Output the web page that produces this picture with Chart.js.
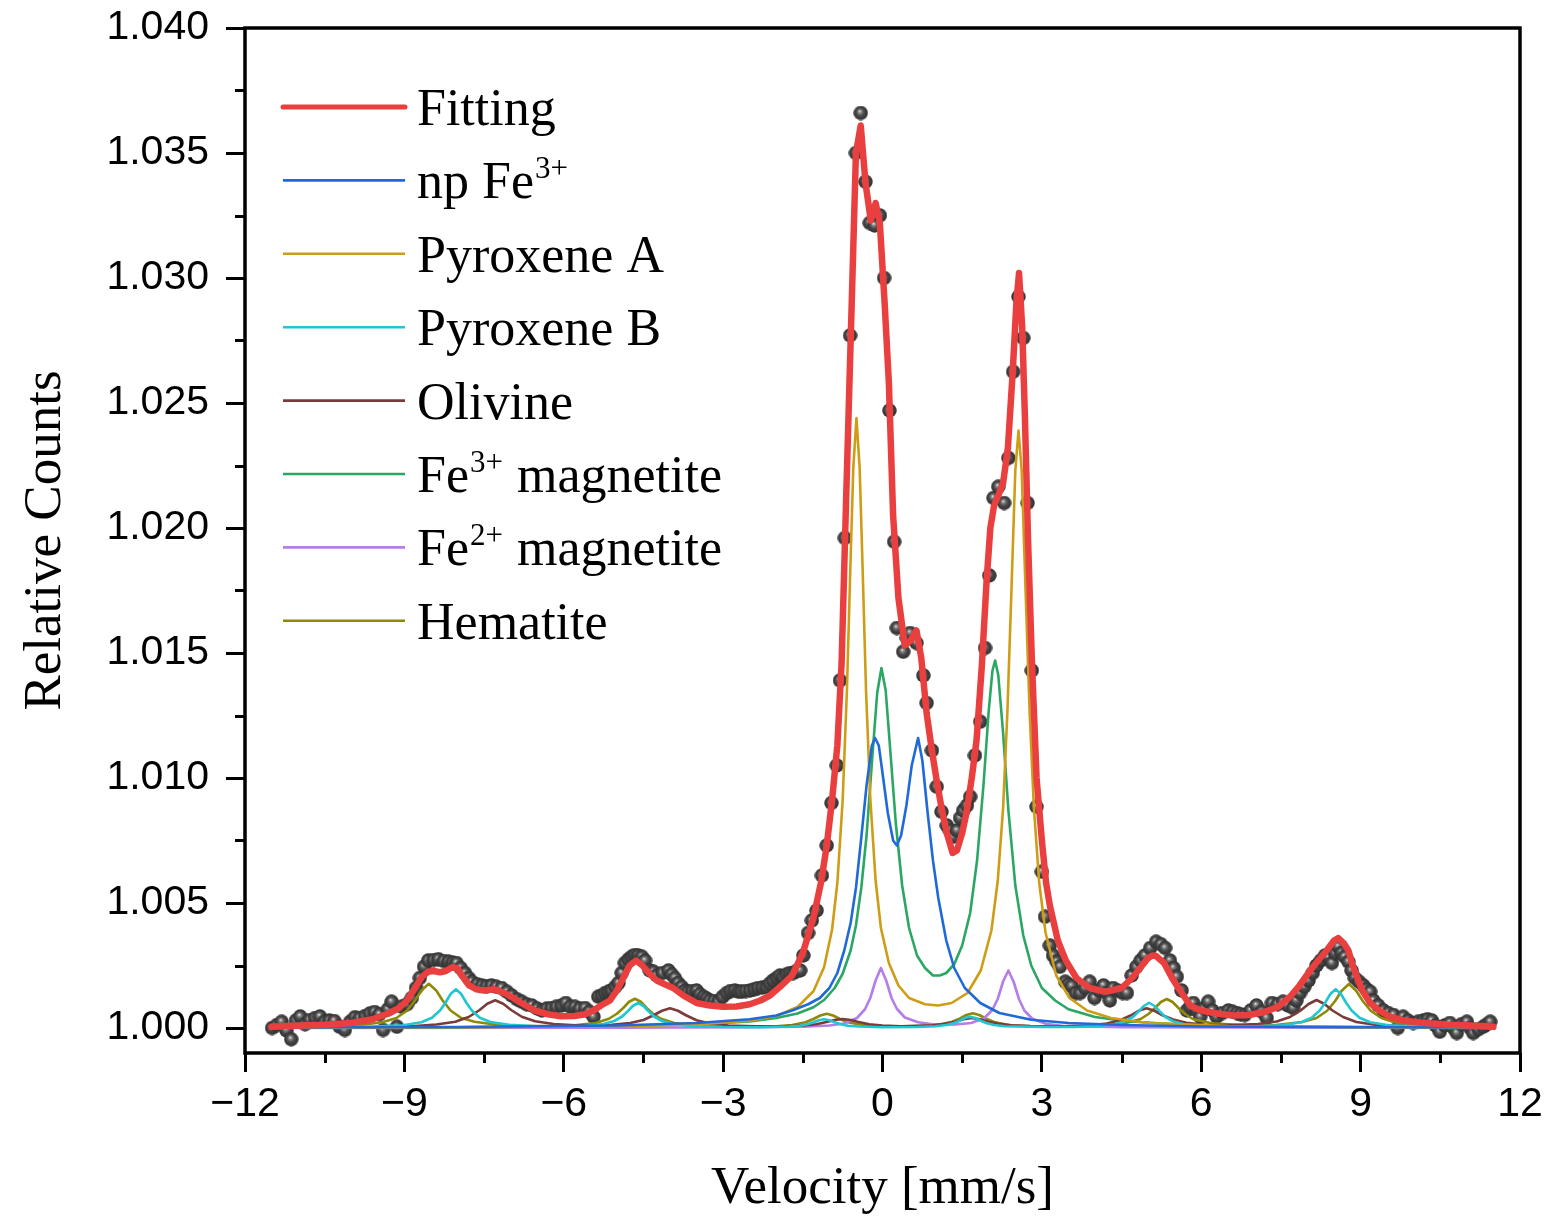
<!DOCTYPE html>
<html>
<head>
<meta charset="utf-8">
<title>Mössbauer spectrum</title>
<script src="https://cdn.jsdelivr.net/npm/chart.js@4.4.1/dist/chart.umd.min.js"></script>
<style>
    html, body { margin: 0; padding: 0; background: #fff; }
    canvas { display: block; }
</style>
</head>
<body>
<canvas id="spectrum" width="1547" height="1217"></canvas>
<script>
/* =========================================
   1. Data (velocity [mm/s], relative counts)
   ========================================= */
const xMajorTicks = [-12, -9, -6, -3, 0, 3, 6, 9, 12];
const xMinorTicks = [-10.5, -7.5, -4.5, -1.5, 1.5, 4.5, 7.5, 10.5];
const yMajorTicks = [1.000, 1.005, 1.010, 1.015, 1.020, 1.025, 1.030, 1.035, 1.040];
const yMinorTicks = [1.0025, 1.0075, 1.0125, 1.0175, 1.0225, 1.0275, 1.0325, 1.0375];

// measured spectrum (grey spheres)
const measured = [
    [-11.49,1.0],[-11.4,1.00012],[-11.31,1.00025],[-11.22,0.9999],[-11.13,0.99955],[-11.04,1.0003],[-10.96,1.00046],[-10.87,1.00015],
    [-10.78,1.00032],[-10.68,1.0004],[-10.59,1.00046],[-10.5,1.00025],[-10.41,1.0003],[-10.32,1.00028],[-10.22,1.00005],[-10.12,0.99992],
    [-10.02,1.00025],[-9.93,1.00043],[-9.84,1.0004],[-9.74,1.00048],[-9.65,1.00058],[-9.56,1.00064],[-9.47,1.00055],[-9.4,0.99992],
    [-9.31,1.00075],[-9.24,1.00105],[-9.14,1.00005],[-9.05,1.00085],[-8.95,1.00095],[-8.86,1.0012],[-8.78,1.0016],[-8.71,1.002],
    [-8.63,1.00245],[-8.55,1.0027],[-8.45,1.00272],[-8.36,1.00275],[-8.26,1.00268],[-8.17,1.00265],[-8.09,1.00262],[-8.02,1.0026],
    [-7.94,1.0024],[-7.86,1.0022],[-7.79,1.002],[-7.73,1.00185],[-7.63,1.00175],[-7.54,1.0017],[-7.45,1.00168],[-7.36,1.0017],
    [-7.27,1.00165],[-7.17,1.0016],[-7.07,1.00145],[-6.98,1.0013],[-6.88,1.00115],[-6.79,1.00105],[-6.7,1.00095],[-6.6,1.0009],
    [-6.5,1.00078],[-6.41,1.0007],[-6.32,1.00078],[-6.23,1.0008],[-6.14,1.00085],[-6.04,1.0009],[-5.96,1.001],[-5.88,1.00085],
    [-5.79,1.00085],[-5.7,1.00078],[-5.6,1.0008],[-5.52,1.00065],[-5.44,1.00045],[-5.35,1.00125],[-5.28,1.0013],[-5.22,1.0014],
    [-5.16,1.00145],[-5.1,1.0015],[-5.03,1.00165],[-4.97,1.0018],[-4.91,1.0022],[-4.85,1.0026],[-4.78,1.00275],[-4.72,1.00285],
    [-4.66,1.00292],[-4.6,1.0029],[-4.53,1.00285],[-4.47,1.0027],[-4.38,1.0023],[-4.31,1.00225],[-4.25,1.0021],[-4.14,1.0022],
    [-4.03,1.0023],[-3.97,1.00215],[-3.91,1.002],[-3.85,1.0018],[-3.78,1.00165],[-3.72,1.0015],[-3.66,1.00145],[-3.58,1.00148],
    [-3.5,1.0015],[-3.44,1.00135],[-3.37,1.00125],[-3.31,1.00118],[-3.25,1.0011],[-3.17,1.00108],[-3.09,1.00105],[-3.01,1.00125],
    [-2.93,1.0014],[-2.86,1.00148],[-2.78,1.0015],[-2.71,1.00145],[-2.65,1.00145],[-2.57,1.00148],[-2.49,1.0015],[-2.41,1.00155],
    [-2.34,1.0016],[-2.26,1.00162],[-2.18,1.00165],[-2.12,1.00178],[-2.06,1.0019],[-1.99,1.002],[-1.93,1.0021],[-1.87,1.00205],
    [-1.8,1.00215],[-1.74,1.0022],[-1.68,1.0022],[-1.62,1.00228],[-1.55,1.0023],[-1.49,1.0029],[-1.4,1.0038],[-1.33,1.0043],
    [-1.24,1.0047],[-1.14,1.0061],[-1.05,1.0073],[-0.96,1.009],[-0.86,1.0105],[-0.8,1.0139],[-0.71,1.0196],[-0.61,1.0277],
    [-0.5,1.035],[-0.41,1.0366],[-0.32,1.03385],[-0.24,1.0322],[-0.15,1.0321],[-0.05,1.0325],[0.03,1.03],[0.13,1.0247],
    [0.22,1.01945],[0.27,1.016],[0.39,1.01505],[0.46,1.0156],[0.52,1.0158],[0.64,1.0154],[0.77,1.0141],[0.83,1.013],
    [0.93,1.0111],[1.02,1.00965],[1.11,1.00865],[1.21,1.0081],[1.27,1.0079],[1.33,1.00765],[1.4,1.0079],[1.46,1.0084],
    [1.52,1.0087],[1.59,1.0089],[1.65,1.00925],[1.74,1.0109],[1.84,1.01225],[1.93,1.0152],[2.01,1.0181],[2.09,1.0212],
    [2.18,1.02165],[2.29,1.021],[2.37,1.0228],[2.46,1.02625],[2.56,1.02925],[2.65,1.0276],[2.73,1.021],[2.81,1.0143],
    [2.9,1.00885],[3.0,1.00625],[3.06,1.00445],[3.15,1.0033],[3.21,1.0029],[3.28,1.00265],[3.34,1.00245],[3.44,1.00185],
    [3.5,1.00175],[3.56,1.00168],[3.64,1.0014],[3.72,1.0014],[3.81,1.0016],[3.9,1.00185],[3.99,1.0012],[4.08,1.0015],
    [4.16,1.0017],[4.22,1.0014],[4.28,1.0011],[4.34,1.0016],[4.43,1.0015],[4.52,1.0014],[4.6,1.0014],[4.69,1.0021],
    [4.78,1.00245],[4.86,1.0027],[4.94,1.0029],[5.04,1.0032],[5.15,1.00345],[5.24,1.00335],[5.32,1.0032],[5.41,1.0027],
    [5.48,1.0024],[5.54,1.00205],[5.63,1.0015],[5.73,1.0007],[5.79,1.00085],[5.85,1.001],[5.92,1.0007],[5.98,1.00045],
    [6.06,1.0008],[6.13,1.00105],[6.21,1.0007],[6.29,1.00045],[6.4,1.0006],[6.51,1.0007],[6.59,1.00065],[6.67,1.0006],
    [6.74,1.00055],[6.82,1.00052],[6.93,1.0007],[7.04,1.0009],[7.14,1.00065],[7.23,1.0004],[7.33,1.001],[7.44,1.00095],
    [7.54,1.00105],[7.63,1.0009],[7.73,1.0008],[7.79,1.0011],[7.86,1.0014],[7.94,1.00165],[8.02,1.0019],[8.1,1.0022],
    [8.17,1.0025],[8.25,1.0027],[8.33,1.0029],[8.4,1.0028],[8.46,1.0026],[8.52,1.003],[8.58,1.00325],[8.64,1.003],
    [8.7,1.00285],[8.77,1.00265],[8.83,1.0023],[8.89,1.002],[8.97,1.00185],[9.05,1.0017],[9.11,1.00155],[9.18,1.00145],
    [9.24,1.0011],[9.33,1.0009],[9.43,1.0007],[9.52,1.0006],[9.62,1.00052],[9.7,1.0],[9.8,1.00045],[9.89,1.0003],
    [9.99,1.0002],[10.08,1.00025],[10.18,1.0003],[10.26,1.00035],[10.34,1.0003],[10.41,1.0001],[10.49,0.99985],[10.58,1.0001],
    [10.68,1.0002],[10.75,1.0],[10.81,0.9998],[10.9,1.00015],[11.0,1.00025],[11.06,1.0],[11.12,0.9998],[11.22,0.99995],
    [11.31,1.00005],[11.38,1.00015],[11.44,1.00025]
];

// total fit
const fitting = [
    [-11.5,1.00005],[-11.0,1.0001],[-10.5,1.00013],[-10.0,1.0002],[-9.6,1.00035],[-9.3,1.00058],[-9.1,1.0008],[-8.95,1.0011],
    [-8.8,1.0016],[-8.67,1.00205],[-8.55,1.00225],[-8.45,1.00228],[-8.33,1.00223],[-8.22,1.00228],[-8.1,1.00243],[-8.0,1.00238],
    [-7.9,1.00205],[-7.78,1.0017],[-7.65,1.00155],[-7.5,1.0015],[-7.3,1.00155],[-7.1,1.00138],[-6.95,1.0012],[-6.8,1.001],
    [-6.55,1.0007],[-6.3,1.00055],[-6.05,1.00047],[-5.8,1.00048],[-5.6,1.00055],[-5.44,1.0007],[-5.3,1.0009],[-5.13,1.0011],
    [-5.0,1.0015],[-4.88,1.002],[-4.76,1.0025],[-4.64,1.0027],[-4.52,1.0025],[-4.4,1.0022],[-4.25,1.0019],[-4.1,1.00175],
    [-3.94,1.0016],[-3.75,1.0013],[-3.5,1.001],[-3.25,1.0009],[-3.0,1.00085],[-2.75,1.00086],[-2.5,1.00095],[-2.3,1.0011],
    [-2.12,1.0013],[-1.9,1.0017],[-1.7,1.0021],[-1.5,1.003],[-1.3,1.0044],[-1.15,1.0059],[-1.05,1.0073],[-0.95,1.0091],
    [-0.85,1.0113],[-0.77,1.0146],[-0.68,1.0215],[-0.59,1.0282],[-0.5,1.035],[-0.41,1.0361],[-0.32,1.0338],[-0.22,1.0323],
    [-0.13,1.033],[-0.05,1.0322],[0.04,1.029],[0.12,1.0258],[0.2,1.0205],[0.3,1.0172],[0.42,1.0153],[0.53,1.0155],
    [0.64,1.0159],[0.73,1.0148],[0.83,1.0126],[0.93,1.0111],[1.02,1.0099],[1.12,1.0087],[1.21,1.0078],[1.32,1.007],
    [1.4,1.0071],[1.5,1.0078],[1.58,1.0086],[1.68,1.01],[1.77,1.0115],[1.87,1.0145],[1.96,1.0179],[2.03,1.02],
    [2.1,1.0209],[2.18,1.0213],[2.27,1.0218],[2.36,1.0232],[2.45,1.0262],[2.52,1.029],[2.57,1.0302],[2.63,1.028],
    [2.68,1.0245],[2.74,1.0195],[2.81,1.0148],[2.9,1.01],[3.0,1.0075],[3.08,1.0058],[3.15,1.0049],[3.3,1.0035],
    [3.45,1.0027],[3.65,1.002],[3.9,1.0016],[4.2,1.00145],[4.5,1.0016],[4.7,1.002],[4.85,1.0024],[5.0,1.0028],
    [5.08,1.0029],[5.15,1.00288],[5.3,1.0026],[5.45,1.002],[5.6,1.0015],[5.8,1.00088],[6.0,1.0007],[6.3,1.00058],
    [6.6,1.0005],[6.9,1.00052],[7.2,1.00065],[7.45,1.00085],[7.67,1.00125],[7.85,1.0017],[8.05,1.0023],[8.2,1.0027],
    [8.36,1.0031],[8.5,1.0035],[8.58,1.0036],[8.68,1.0034],[8.77,1.0031],[8.85,1.0025],[8.93,1.00205],[9.03,1.0015],
    [9.18,1.001],[9.35,1.0007],[9.55,1.00045],[9.8,1.0003],[10.1,1.00022],[10.6,1.00014],[11.06,1.0001],[11.5,1.00005]
];

// fitted sub-spectra
const npFe3 = [
    [-11.5,1.00002],[-8,1.00004],[-5,1.0001],[-3.5,1.0002],[-2.5,1.00035],[-2,1.0005],[-1.7,1.0007],[-1.4,1.00095],
    [-1.18,1.0012],[-1.0,1.0016],[-0.85,1.0022],[-0.72,1.0031],[-0.6,1.0042],[-0.5,1.0056],[-0.4,1.0076],[-0.3,1.0097],
    [-0.2,1.0113],[-0.14,1.0116],[-0.07,1.0113],[0,1.0102],[0.1,1.0086],[0.2,1.0075],[0.27,1.0073],[0.35,1.0077],
    [0.45,1.0089],[0.55,1.0105],[0.67,1.0116],[0.75,1.0107],[0.85,1.0086],[0.95,1.0067],[1.05,1.0052],[1.2,1.0035],
    [1.35,1.0024],[1.55,1.0016],[1.84,1.001],[2.2,1.0006],[2.8,1.00033],[3.5,1.0002],[4.5,1.00012],[6,1.00006],
    [8,1.00004],[11.5,1.00002]
];
const pyroxeneA = [
    [-11.5,1.00001],[-8,1.00003],[-5,1.00007],[-3.5,1.00014],[-2.5,1.00029],[-2,1.00048],[-1.6,1.00084],[-1.3,1.00147],
    [-1.1,1.00243],[-0.95,1.00393],[-0.85,1.0058],[-0.75,1.0091],[-0.67,1.0135],[-0.6,1.0188],[-0.55,1.0224],[-0.49,1.0244],
    [-0.43,1.0224],[-0.38,1.0188],[-0.31,1.0135],[-0.23,1.0092],[-0.13,1.0059],[-0.03,1.004],[0.12,1.0026],[0.3,1.0017],
    [0.5,1.0012],[0.8,1.00095],[1.05,1.0009],[1.3,1.001],[1.6,1.0014],[1.85,1.0023],[2.05,1.0039],[2.17,1.0059],
    [2.27,1.0088],[2.35,1.0126],[2.43,1.0177],[2.5,1.0223],[2.56,1.0239],[2.62,1.0223],[2.69,1.0177],[2.77,1.0126],
    [2.85,1.0088],[2.95,1.0058],[3.07,1.0038],[3.27,1.0021],[3.52,1.0012],[3.85,1.0007],[4.3,1.0004],[5,1.0002],
    [6.5,1.00008],[9,1.00003],[11.5,1.00001]
];
const pyroxeneB = [
    [-11.5,1.00001],[-10,1.00003],[-9.03,1.00011],[-8.68,1.00023],[-8.48,1.00041],[-8.33,1.0007],[-8.23,1.001],[-8.13,1.00136],
    [-8.03,1.00155],[-7.93,1.00136],[-7.83,1.001],[-7.73,1.0007],[-7.58,1.00041],[-7.38,1.00024],[-7.03,1.00013],[-6.5,1.00007],
    [-6,1.00006],[-5.6,1.00008],[-5.25,1.00016],[-5.05,1.00028],[-4.9,1.00046],[-4.8,1.00066],[-4.7,1.00088],[-4.6,1.001],
    [-4.5,1.00088],[-4.4,1.00066],[-4.3,1.00046],[-4.15,1.00028],[-3.95,1.00016],[-3.6,1.00008],[-3,1.00004],[-2.3,1.00003],
    [-1.75,1.00006],[-1.55,1.00009],[-1.4,1.00016],[-1.3,1.00023],[-1.2,1.00031],[-1.1,1.00035],[-1.0,1.00031],[-0.9,1.00023],
    [-0.8,1.00016],[-0.65,1.00009],[-0.45,1.00006],[0,1.00003],[0.65,1.00004],[1.0,1.00007],[1.2,1.00012],[1.35,1.0002],
    [1.45,1.00029],[1.55,1.0004],[1.65,1.00045],[1.75,1.0004],[1.85,1.00029],[1.95,1.0002],[2.1,1.00012],[2.3,1.00007],
    [3,1.00004],[3.6,1.00004],[4.02,1.00007],[4.37,1.00015],[4.57,1.00027],[4.72,1.00045],[4.82,1.00066],[4.92,1.00088],
    [5.02,1.00101],[5.12,1.00088],[5.22,1.00066],[5.32,1.00045],[5.47,1.00027],[5.67,1.00015],[6.02,1.00008],[6.6,1.00006],
    [7.03,1.00007],[7.53,1.00011],[7.88,1.00023],[8.08,1.00041],[8.23,1.0007],[8.33,1.001],[8.43,1.00136],[8.53,1.00155],
    [8.63,1.00136],[8.73,1.001],[8.83,1.0007],[8.98,1.00041],[9.18,1.00023],[9.53,1.00011],[10.5,1.00003],[11.5,1.00001]
];
const olivine = [
    [-11.5,1.00001],[-10,1.00002],[-9.3,1.00004],[-8.8,1.00008],[-8.4,1.00014],[-8.04,1.00025],[-7.79,1.00044],[-7.59,1.00071],
    [-7.44,1.00097],[-7.29,1.00111],[-7.14,1.00097],[-6.99,1.00072],[-6.79,1.00045],[-6.54,1.00027],[-6.19,1.00016],[-5.69,1.0001],
    [-5.1,1.00013],[-4.75,1.0002],[-4.5,1.00032],[-4.3,1.00052],[-4.15,1.00069],[-4.0,1.00079],[-3.85,1.00069],[-3.7,1.00051],
    [-3.5,1.00031],[-3.25,1.00018],[-2.9,1.0001],[-2.4,1.00007],[-1.85,1.00007],[-1.5,1.0001],[-1.25,1.00015],[-1.05,1.00024],
    [-0.9,1.00032],[-0.75,1.00036],[-0.6,1.00032],[-0.45,1.00024],[-0.25,1.00015],[0,1.0001],[0.35,1.00007],[0.93,1.00011],
    [1.18,1.00017],[1.38,1.00026],[1.53,1.00035],[1.68,1.0004],[1.83,1.00035],[1.98,1.00026],[2.18,1.00017],[2.43,1.00011],
    [2.78,1.00008],[3.37,1.00007],[3.87,1.0001],[4.22,1.00018],[4.47,1.00031],[4.67,1.0005],[4.82,1.00069],[4.97,1.00079],
    [5.12,1.00069],[5.27,1.00051],[5.47,1.00034],[5.72,1.00021],[6.07,1.00013],[6.57,1.00012],[7.07,1.00016],[7.42,1.00026],
    [7.67,1.00044],[7.87,1.0007],[8.02,1.00096],[8.17,1.00112],[8.32,1.00096],[8.47,1.0007],[8.67,1.00044],[8.92,1.00024],
    [9.27,1.00013],[9.77,1.00007],[10.67,1.00003],[11.5,1.00002]
];
const fe3Magnetite = [
    [-11.5,1.00002],[-8,1.00003],[-5,1.00008],[-3.5,1.00014],[-2.5,1.00026],[-2,1.0004],[-1.6,1.00058],[-1.3,1.00083],
    [-1.1,1.00112],[-0.9,1.0016],[-0.75,1.00217],[-0.6,1.0031],[-0.5,1.0041],[-0.4,1.0056],[-0.3,1.0077],[-0.2,1.0106],
    [-0.1,1.0134],[-0.02,1.0144],[0.06,1.0135],[0.15,1.011],[0.25,1.0082],[0.37,1.0057],[0.5,1.004],[0.65,1.0029],
    [0.8,1.0024],[0.95,1.0021],[1.08,1.0021],[1.2,1.0022],[1.35,1.00255],[1.5,1.0033],[1.65,1.0046],[1.78,1.0067],
    [1.9,1.0097],[2.0,1.0127],[2.07,1.0143],[2.12,1.0147],[2.18,1.0141],[2.27,1.0118],[2.37,1.0087],[2.5,1.0057],
    [2.65,1.0037],[2.8,1.0025],[3.0,1.0016],[3.25,1.0011],[3.5,1.00075],[4,1.00044],[4.6,1.00027],[5.5,1.00015],
    [7,1.00007],[9,1.00004],[11.5,1.00002]
];
const fe2Magnetite = [
    [-11.5,1.0],[-5,1.00001],[-2.5,1.00003],[-1.5,1.00005],[-1.0,1.0001],[-0.73,1.00018],[-0.48,1.0004],[-0.33,1.00075],
    [-0.23,1.0012],[-0.13,1.0019],[-0.03,1.0024],[0.07,1.0019],[0.17,1.0012],[0.27,1.00077],[0.42,1.00042],[0.67,1.00023],
    [0.97,1.00014],[1.37,1.00014],[1.67,1.0002],[1.92,1.0004],[2.07,1.00073],[2.17,1.00117],[2.27,1.00186],[2.37,1.0023],
    [2.47,1.00184],[2.57,1.00115],[2.67,1.0007],[2.82,1.00037],[3.07,1.00017],[3.4,1.00008],[4.5,1.00003],[11.5,1.0]
];
const hematite = [
    [-11.5,1.00002],[-10.5,1.00005],[-9.8,1.00012],[-9.4,1.00024],[-9.15,1.0004],[-8.95,1.0007],[-8.8,1.0011],[-8.68,1.0015],
    [-8.54,1.00177],[-8.4,1.0015],[-8.28,1.0011],[-8.13,1.0007],[-7.93,1.0004],[-7.68,1.00025],[-7.3,1.00014],[-6.8,1.00009],
    [-6.3,1.00008],[-5.8,1.00011],[-5.4,1.0002],[-5.15,1.00037],[-5.0,1.00057],[-4.88,1.0008],[-4.77,1.00105],[-4.66,1.00117],
    [-4.55,1.00105],[-4.44,1.0008],[-4.32,1.00057],[-4.17,1.00037],[-3.92,1.0002],[-3.5,1.0001],[-3.0,1.00006],[-2.5,1.00005],
    [-2.0,1.00007],[-1.7,1.00012],[-1.45,1.00023],[-1.3,1.00036],[-1.17,1.0005],[-1.05,1.00057],[-0.93,1.0005],[-0.8,1.00036],
    [-0.65,1.00023],[-0.4,1.00013],[0,1.00007],[0.5,1.00006],[1.0,1.00011],[1.3,1.00024],[1.45,1.00037],[1.58,1.00052],
    [1.7,1.00059],[1.82,1.00052],[1.95,1.00037],[2.1,1.00024],[2.4,1.00011],[2.9,1.00006],[3.5,1.00006],[4,1.00007],
    [4.5,1.00016],[4.85,1.00035],[5.0,1.00055],[5.12,1.00078],[5.24,1.00104],[5.35,1.00116],[5.46,1.00104],[5.58,1.00078],
    [5.7,1.00055],[5.85,1.00035],[6.2,1.00019],[6.8,1.00011],[7.4,1.00012],[7.9,1.00024],[8.17,1.0004],[8.37,1.00069],
    [8.52,1.00108],[8.64,1.00148],[8.78,1.00176],[8.92,1.00148],[9.04,1.00108],[9.19,1.00069],[9.39,1.0004],[9.64,1.00023],
    [10,1.00012],[10.6,1.00006],[11.5,1.00003]
];

// legend text split as [before, superscript, after]
const legendParts = [
    ['Fitting', '', ''],
    ['np Fe', '3+', ''],
    ['Pyroxene A', '', ''],
    ['Pyroxene B', '', ''],
    ['Olivine', '', ''],
    ['Fe', '3+', ' magnetite'],
    ['Fe', '2+', ' magnetite'],
    ['Hematite', '', '']
];

/* =========================================
   2. Styling helpers
   ========================================= */
const palette = {
    fit: '#e9403f',
    npFe3: '#1f6ad8',
    pyroxA: '#cf9d15',
    pyroxB: '#1fc7d3',
    olivine: '#7b3b3b',
    fe3Mag: '#2aa763',
    fe2Mag: '#b47de8',
    hematite: '#8e8a08'
};

const toXY = rows => rows.map(([x, y]) => ({ x, y }));

// shaded sphere used as the marker for measured points
function makeSphere(r) {
    const c = document.createElement('canvas');
    c.width = c.height = r * 2;
    const g = c.getContext('2d');
    const grad = g.createRadialGradient(r * 0.85, r * 0.75, 0, r, r, r);
    grad.addColorStop(0, '#f2f2f2');
    grad.addColorStop(0.2, '#8c8c8c');
    grad.addColorStop(0.5, '#4b4b4b');
    grad.addColorStop(1, '#2c2c2c');
    g.fillStyle = grad;
    g.beginPath();
    g.arc(r, r, r - 0.3, 0, Math.PI * 2);
    g.fill();
    return c;
}

function lineSet(label, rows, color, width, order) {
    return {
        label, data: toXY(rows),
        borderColor: color, backgroundColor: color,
        borderWidth: width, borderJoinStyle: 'round', borderCapStyle: 'round',
        pointRadius: 0, tension: 0, fill: false, order
    };
}

// keep the plot box where the layout padding puts it (labels may overhang)
function noScalePadding(s) {
    s.paddingTop = 0; s.paddingBottom = 0;
    s.paddingLeft = 0; s.paddingRight = 0;
}

/* =========================================
   3. Decorations: frame, minor ticks, legend, axis titles
   ========================================= */
const decorPlugin = {
    id: 'decor',
    afterDatasetsDraw(chart) {
        const { ctx, chartArea: a, scales: { x, y } } = chart;
        ctx.save();

        // box
        ctx.strokeStyle = '#000';
        ctx.lineWidth = 3.5;
        ctx.strokeRect(a.left, a.top, a.right - a.left, a.bottom - a.top);

        // minor ticks
        ctx.lineWidth = 3;
        ctx.beginPath();
        xMinorTicks.forEach(v => {
            const px = Math.round(x.getPixelForValue(v)) + 0.5;
            ctx.moveTo(px, a.bottom); ctx.lineTo(px, a.bottom + 10);
        });
        yMinorTicks.forEach(v => {
            const py = Math.round(y.getPixelForValue(v)) + 0.5;
            ctx.moveTo(a.left, py); ctx.lineTo(a.left - 10, py);
        });
        ctx.stroke();

        // legend
        const rowTop = 107, rowGap = 73.4;
        chart.data.datasets.filter(d => d.order < 20).forEach((ds, i) => {
            const yy = rowTop + i * rowGap;
            ctx.strokeStyle = ds.borderColor;
            ctx.lineWidth = i === 0 ? 5 : 2.6;
            ctx.lineCap = i === 0 ? 'round' : 'butt';
            ctx.beginPath(); ctx.moveTo(283, yy); ctx.lineTo(405, yy); ctx.stroke();

            const [pre, sup, post] = legendParts[i];
            const base = yy + 18;
            ctx.fillStyle = '#000';
            ctx.textBaseline = 'alphabetic';
            ctx.textAlign = 'left';
            ctx.font = '52px "Liberation Serif"';
            let tx = 417;
            ctx.fillText(pre, tx, base);
            tx += ctx.measureText(pre).width;
            if (sup) {
                ctx.font = '31px "Liberation Serif"';
                ctx.fillText(sup, tx + 1, base - 20);
                tx += ctx.measureText(sup).width + 2;
                ctx.font = '52px "Liberation Serif"';
                ctx.fillText(post, tx, base);
            }
        });

        // axis titles
        ctx.fillStyle = '#000';
        ctx.font = '53px "Liberation Serif"';
        ctx.textAlign = 'center';
        ctx.textBaseline = 'alphabetic';
        ctx.fillText('Velocity [mm/s]', (a.left + a.right) / 2, 1203);
        ctx.translate(60, (a.top + a.bottom) / 2);
        ctx.rotate(-Math.PI / 2);
        ctx.fillText('Relative Counts', 0, 0);

        ctx.restore();
    }
};

/* =========================================
   4. Chart
   ========================================= */
const tickFont = { family: 'Liberation Sans', size: 41 };
const sphere = makeSphere(7.5);

new Chart(document.getElementById('spectrum'), {
    type: 'line',
    data: {
        datasets: [
            lineSet('Fitting', fitting, palette.fit, 6.5, 0),
            lineSet('np Fe3+', npFe3, palette.npFe3, 2.6, 2),
            lineSet('Pyroxene A', pyroxeneA, palette.pyroxA, 2.6, 3),
            lineSet('Pyroxene B', pyroxeneB, palette.pyroxB, 2.6, 4),
            lineSet('Olivine', olivine, palette.olivine, 2.6, 5),
            lineSet('Fe3+ magnetite', fe3Magnetite, palette.fe3Mag, 2.6, 6),
            lineSet('Fe2+ magnetite', fe2Magnetite, palette.fe2Mag, 2.6, 7),
            lineSet('Hematite', hematite, palette.hematite, 2.6, 8),
            {
                label: 'Measured', data: toXY(measured), showLine: false,
                pointStyle: sphere, pointRadius: 7.5, order: 20
            }
        ]
    },
    options: {
        responsive: false,
        animation: false,
        events: [],
        layout: { padding: { top: 28, right: 27, bottom: 0, left: 0 } },
        plugins: { legend: { display: false }, tooltip: { enabled: false } },
        scales: {
            x: {
                type: 'linear', min: -12, max: 12,
                afterFit: s => { s.height = 164; noScalePadding(s); },
                afterBuildTicks: s => { s.ticks = xMajorTicks.map(v => ({ value: v })); },
                border: { display: false },
                grid: { drawOnChartArea: false, drawTicks: true, tickLength: 19, tickWidth: 3, tickColor: '#000' },
                ticks: {
                    color: '#000', font: tickFont, padding: 8, maxRotation: 0, autoSkip: false,
                    callback: v => (v < 0 ? '\u2212' + Math.abs(v) : String(v))
                }
            },
            y: {
                type: 'linear', min: 0.999, max: 1.04,
                afterFit: s => { s.width = 245; noScalePadding(s); },
                afterBuildTicks: s => { s.ticks = yMajorTicks.map(v => ({ value: v })); },
                border: { display: false },
                grid: { drawOnChartArea: false, drawTicks: true, tickLength: 19, tickWidth: 3, tickColor: '#000' },
                ticks: {
                    color: '#000', font: tickFont, padding: 17, autoSkip: false,
                    callback: v => Number(v).toFixed(3)
                }
            }
        }
    },
    plugins: [decorPlugin]
});
</script>
</body>
</html>
